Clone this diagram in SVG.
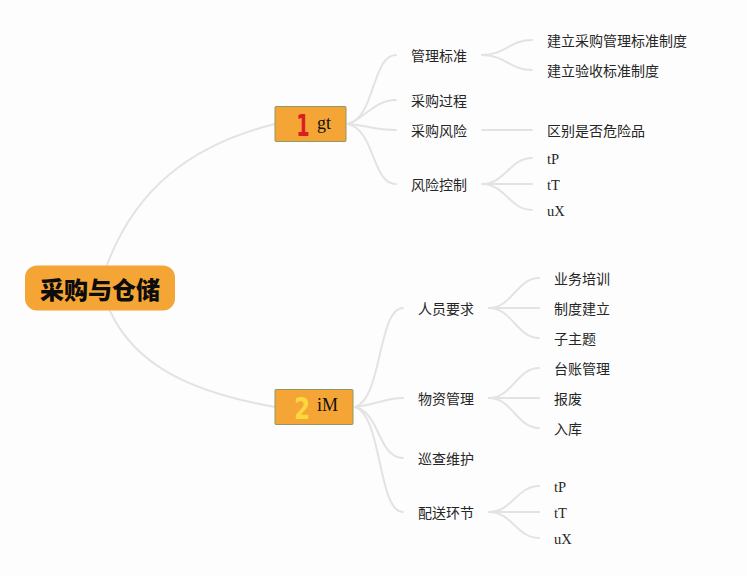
<svg xmlns="http://www.w3.org/2000/svg" width="747" height="576" viewBox="0 0 747 576">
<style>
.l{fill:none;stroke:#e3e3e3;stroke-width:2;stroke-linecap:round}
.t{font-family:"Noto Sans CJK SC","Liberation Serif",sans-serif;font-size:14px;fill:#262626}
.s{font-family:"Liberation Serif",serif;font-size:14.500px;fill:#262626}
.b{fill:#f4a535;stroke:#8d9a66;stroke-width:1}
.m{font-family:"Liberation Serif",serif;font-size:18px;fill:#111}
.n{font-family:"DejaVu Sans",sans-serif;font-weight:bold;font-size:31px}
</style>
<rect width="747" height="576" fill="#fdfdfd"/>
<g id="connectors">
<path class="l" d="M107 265C135 190 190 145 275 124"/>
<path class="l" d="M110 311C135 365 190 392 275 407"/>
<path class="l" d="M348 124C375 118 372 55 396 55"/>
<path class="l" d="M348 124C365 118 375 100 396 100"/>
<path class="l" d="M348 124C365 125 375 130 396 130"/>
<path class="l" d="M348 124C375 130 372 184 396 184"/>
<path class="l" d="M482 55C505 55 510 40 532 40"/>
<path class="l" d="M482 55C505 55 510 70 532 70"/>
<path class="l" d="M482 130H532"/>
<path class="l" d="M482 184C505 184 510 158 532 158"/>
<path class="l" d="M482 184H532"/>
<path class="l" d="M482 184C505 184 510 210 532 210"/>
<path class="l" d="M355 407C382 400 378 308 403 308"/>
<path class="l" d="M355 407C375 405 385 398 403 398"/>
<path class="l" d="M355 407C380 412 378 458 403 458"/>
<path class="l" d="M355 407C382 415 378 512 403 512"/>
<path class="l" d="M489 308C512 308 517 278 539 278"/>
<path class="l" d="M489 308H539"/>
<path class="l" d="M489 308C512 308 517 338 539 338"/>
<path class="l" d="M489 398C512 398 517 368 539 368"/>
<path class="l" d="M489 398H539"/>
<path class="l" d="M489 398C512 398 517 428 539 428"/>
<path class="l" d="M489 512C512 512 517 486 539 486"/>
<path class="l" d="M489 512H539"/>
<path class="l" d="M489 512C512 512 517 538 539 538"/>
</g>
<g id="root">
<rect x="25" y="265.500" width="150" height="45" rx="12" fill="#f4a535"/>
<text x="100" y="298.500" text-anchor="middle" font-family="Noto Sans CJK SC,sans-serif" font-weight="900" font-size="24px" fill="#0c0c0c">采购与仓储</text>
</g>
<g id="n1">
<rect class="b" x="275" y="106.500" width="71" height="35" rx="1"/>
<text class="n" transform="translate(303 136) scale(.62 1)" text-anchor="middle" fill="#dc1c24">1</text>
<text class="m" x="317" y="129">gt</text>
</g>
<g id="n2">
<rect class="b" x="275" y="389.500" width="78" height="35" rx="1"/>
<text class="n" transform="translate(302 419) scale(.75 1)" text-anchor="middle" fill="#fbd83c">2</text>
<text class="m" x="317" y="411">iM</text>
</g>
<g id="n1-1"><text class="t" x="411" y="61">管理标准</text></g>
<g id="n1-2"><text class="t" x="411" y="106">采购过程</text></g>
<g id="n1-3"><text class="t" x="411" y="136">采购风险</text></g>
<g id="n1-4"><text class="t" x="411" y="190">风险控制</text></g>
<g id="n1-1-1"><text class="t" x="547" y="46">建立采购管理标准制度</text></g>
<g id="n1-1-2"><text class="t" x="547" y="76">建立验收标准制度</text></g>
<g id="n1-3-1"><text class="t" x="547" y="136">区别是否危险品</text></g>
<g id="n1-4-1"><text class="s" x="547" y="164">tP</text></g>
<g id="n1-4-2"><text class="s" x="547" y="190">tT</text></g>
<g id="n1-4-3"><text class="s" x="547" y="216">uX</text></g>
<g id="n2-1"><text class="t" x="418" y="314">人员要求</text></g>
<g id="n2-2"><text class="t" x="418" y="404">物资管理</text></g>
<g id="n2-3"><text class="t" x="418" y="464">巡查维护</text></g>
<g id="n2-4"><text class="t" x="418" y="518">配送环节</text></g>
<g id="n2-1-1"><text class="t" x="554" y="284">业务培训</text></g>
<g id="n2-1-2"><text class="t" x="554" y="314">制度建立</text></g>
<g id="n2-1-3"><text class="t" x="554" y="344">子主题</text></g>
<g id="n2-2-1"><text class="t" x="554" y="374">台账管理</text></g>
<g id="n2-2-2"><text class="t" x="554" y="404">报废</text></g>
<g id="n2-2-3"><text class="t" x="554" y="434">入库</text></g>
<g id="n2-4-1"><text class="s" x="554" y="492">tP</text></g>
<g id="n2-4-2"><text class="s" x="554" y="518">tT</text></g>
<g id="n2-4-3"><text class="s" x="554" y="544">uX</text></g>
</svg>
